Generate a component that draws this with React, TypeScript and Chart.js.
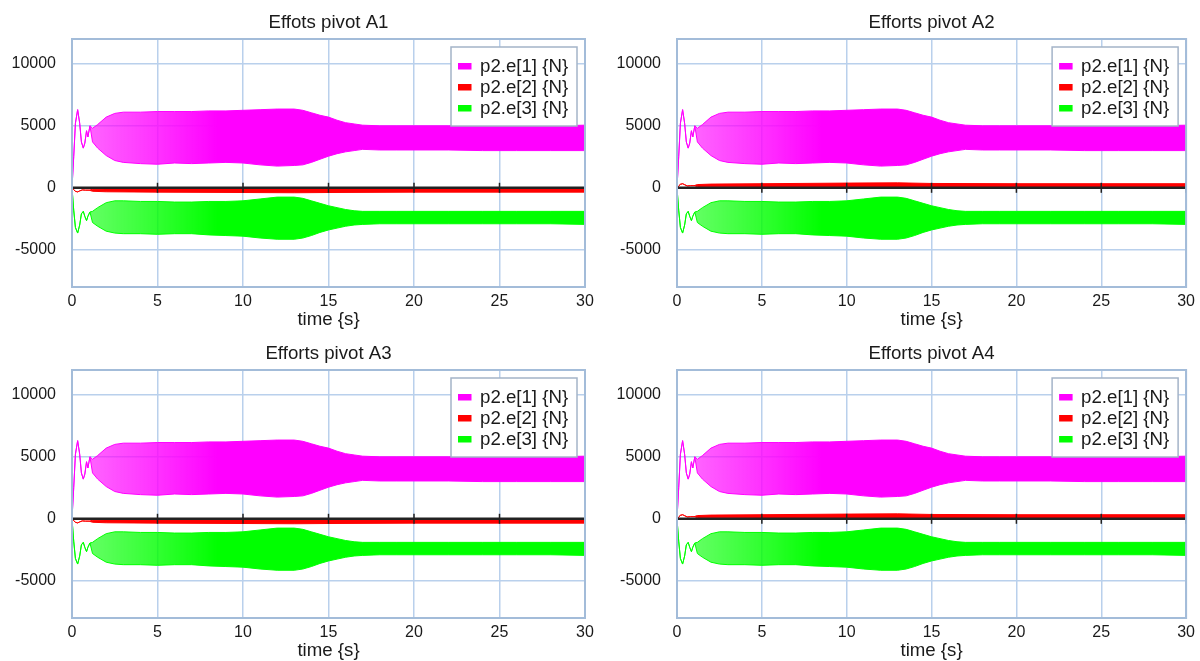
import React, { useEffect, useRef } from "react";
import { Chart, registerables } from "chart.js";
Chart.register(...registerables);

const X_TICKS = [0, 5, 10, 15, 20, 25, 30];
const Y_TICKS = [-5000, 0, 5000, 10000];
const TITLES = ["Effots pivot A1", "Efforts pivot A2", "Efforts pivot A3", "Efforts pivot A4"];
const SERIES_NAMES = ["p2.e[1] {N}", "p2.e[2] {N}", "p2.e[3] {N}"];
const SERIES_COLORS = ["#ff00ff", "#ff0000", "#00ff00"];
const SERIES_RGB = ["255,0,255", "255,0,0", "0,255,0"];

// time knots (s) for e[1] and e[3]: transient values, then oscillation envelope (max / min)
const T_MAIN = [0, 0.1, 0.2, 0.33, 0.45, 0.55, 0.66, 0.75, 0.85, 0.93, 1.05,
  1.2, 1.5, 2, 2.5, 3, 4, 5, 6, 7, 8, 9, 10, 11, 12, 13,
  13.5, 14, 14.5, 15, 15.5, 16, 16.5, 17, 18, 19, 20, 22, 24, 26, 28, 30];
const E1_UPPER = [0, 2500, 5200, 6300, 5200, 3700, 3200, 3600, 4600, 4100, 5000,
  4800, 5100, 5700, 6000, 6100, 6100, 6150, 6150, 6150, 6200, 6200, 6250, 6300, 6350, 6350,
  6250, 6050, 5850, 5700, 5450, 5250, 5150, 5050, 5000, 5000, 5000, 5000, 5000, 5000, 5000, 5050];
const E1_LOWER = [0, 2500, 5200, 6300, 5200, 3700, 3200, 3600, 4600, 4100, 5000,
  3700, 3200, 2600, 2200, 2050, 1950, 1900, 2000, 1950, 2000, 2050, 2000, 1850, 1750, 1800,
  1850, 2050, 2300, 2550, 2750, 2900, 3000, 3100, 3050, 3050, 3050, 3050, 3000, 3000, 3000, 3000];
const E3_UPPER = [0, -1800, -3200, -3650, -3000, -2100, -1900, -2300, -2650, -2300, -1950,
  -1900, -1600, -1200, -1050, -1050, -1100, -1100, -1150, -1150, -1100, -1100, -1050, -900, -750, -750,
  -850, -1050, -1250, -1450, -1600, -1750, -1850, -1900, -1900, -1900, -1900, -1900, -1900, -1900, -1900, -1900];
const E3_LOWER = [0, -1800, -3200, -3650, -3000, -2100, -1900, -2300, -2650, -2300, -1950,
  -2800, -3100, -3500, -3650, -3700, -3700, -3750, -3700, -3700, -3800, -3850, -3900, -4050, -4150, -4150,
  -4050, -3850, -3600, -3400, -3250, -3100, -3000, -2950, -2900, -2900, -2900, -2900, -2900, -2900, -2900, -2950];

// e[2]: A1 / A3 negative, A2 / A4 positive
const T_RED = [0, 0.1, 0.2, 0.33, 0.45, 0.6, 0.8, 1.0, 1.2, 2, 5, 10, 13, 15, 20, 30];
const E2_NEG_UPPER = [0, -150, -280, -330, -250, -170, -190, -190, -120, -100, -80, -60, -50, -60, -60, -60];
const E2_NEG_LOWER = [0, -150, -280, -330, -250, -170, -190, -190, -280, -320, -350, -380, -400, -380, -350, -350];
const E2_POS_UPPER = [0, 150, 280, 330, 250, 150, 170, 170, 260, 300, 330, 380, 400, 350, 330, 330];
const E2_POS_LOWER = [0, 150, 280, 330, 250, 150, 170, 170, 100, 80, 60, 50, 50, 60, 60, 60];

const FONT = "'Liberation Sans', Arial, sans-serif";
const TEXT = "#1a1a1a";

const pts = (t: number[], v: number[]) => t.map((x, i) => ({ x, y: v[i] }));

const bandFill = (rgb: string, textured: boolean) => (ctx: any) => {
  if (!textured) return `rgb(${rgb})`;
  const chart = ctx.chart;
  const xs = chart.scales && chart.scales.x;
  if (!chart.chartArea || !xs) return `rgba(${rgb},0.85)`;
  const x0 = xs.getPixelForValue(1.2);
  const x1 = xs.getPixelForValue(8.5);
  const g = chart.ctx.createLinearGradient(x0, 0, x1, 0);
  g.addColorStop(0, `rgba(${rgb},0.62)`);
  g.addColorStop(0.55, `rgba(${rgb},0.82)`);
  g.addColorStop(1, `rgba(${rgb},1)`);
  return g;
};

const decoPlugin = {
  id: "deco",
  afterDatasetsDraw(chart: any, _args: any, opts: any) {
    const { ctx, chartArea: a, scales } = chart;
    const y0 = scales.y.getPixelForValue(0);
    ctx.save();
    // zero axis
    ctx.strokeStyle = "#222";
    ctx.lineWidth = 2.5;
    ctx.beginPath();
    ctx.moveTo(a.left, y0);
    ctx.lineTo(a.right, y0);
    ctx.stroke();
    ctx.lineWidth = 1.5;
    for (const v of X_TICKS) {
      if (v === 0) continue;
      const x = scales.x.getPixelForValue(v);
      ctx.beginPath();
      ctx.moveTo(x, y0 - 5);
      ctx.lineTo(x, y0 + 5);
      ctx.stroke();
    }
    // frame
    ctx.strokeStyle = "#a3bcd9";
    ctx.lineWidth = 2;
    ctx.strokeRect(a.left, a.top, a.right - a.left, a.bottom - a.top);
    // legend
    const bw = 126, bh = 79;
    const bx = a.right - 8 - bw, by = a.top + 8;
    ctx.fillStyle = "#fff";
    ctx.fillRect(bx, by, bw, bh);
    ctx.strokeStyle = "#a4b4c8";
    ctx.lineWidth = 1.5;
    ctx.strokeRect(bx, by, bw, bh);
    ctx.font = `18.67px ${FONT}`;
    ctx.textBaseline = "middle";
    ctx.textAlign = "left";
    SERIES_NAMES.forEach((n, i) => {
      const cy = by + 19 + i * 21;
      ctx.fillStyle = SERIES_COLORS[i];
      ctx.fillRect(bx + 7, cy - 3, 13.5, 6.5);
      ctx.fillStyle = TEXT;
      ctx.fillText(n, bx + 29, cy + 1);
    });
    // title and x-axis title
    const cx = (a.left + a.right) / 2;
    ctx.textAlign = "center";
    ctx.textBaseline = "alphabetic";
    ctx.fillStyle = TEXT;
    ctx.fillText(opts.title, cx, 28);
    ctx.fillText("time {s}", cx, 325);
    ctx.restore();
  },
};

function Panel({ idx, left, top }: { idx: number; left: number; top: number }) {
  const ref = useRef<HTMLCanvasElement>(null);
  useEffect(() => {
    const positive = idx % 2 === 1;
    const yWidth = idx % 2 === 0 ? 72 : 77;
    const rightPad = idx % 2 === 0 ? 15 : 12;
    const redU = positive ? E2_POS_UPPER : E2_NEG_UPPER;
    const redL = positive ? E2_POS_LOWER : E2_NEG_LOWER;
    const series = [
      { t: T_MAIN, u: E1_UPPER, l: E1_LOWER, tex: true },
      { t: T_RED, u: redU, l: redL, tex: false },
      { t: T_MAIN, u: E3_UPPER, l: E3_LOWER, tex: true },
    ];
    const datasets: any[] = [];
    series.forEach((s, i) => {
      datasets.push({
        label: SERIES_NAMES[i],
        data: pts(s.t, s.u),
        borderColor: SERIES_COLORS[i],
        borderWidth: 1,
        pointRadius: 0,
        tension: 0,
        fill: false,
      });
      datasets.push({
        label: SERIES_NAMES[i] + " min",
        data: pts(s.t, s.l),
        borderColor: SERIES_COLORS[i],
        borderWidth: 1,
        pointRadius: 0,
        tension: 0,
        fill: "-1",
        backgroundColor: bandFill(SERIES_RGB[i], s.tex),
      });
    });
    const chart = new Chart(ref.current!, {
      type: "line",
      data: { datasets },
      plugins: [decoPlugin],
      options: {
        animation: false,
        responsive: false,
        devicePixelRatio: 1,
        layout: { padding: { top: 39, right: rightPad, left: 0, bottom: 0 } },
        plugins: {
          legend: { display: false },
          tooltip: { enabled: false },
          title: { display: false },
          deco: { title: TITLES[idx] },
        } as any,
        scales: {
          x: {
            type: "linear",
            min: 0,
            max: 30,
            afterBuildTicks: (s: any) => { s.ticks = X_TICKS.map((v) => ({ value: v })); },
            afterFit: (s: any) => { s.height = 43; },
            ticks: { font: { family: FONT, size: 16 }, color: TEXT, padding: 5, maxRotation: 0, callback: (v: any) => String(v) },
            grid: { color: "#b9d0ec", lineWidth: 1.5, drawTicks: false },
            border: { display: false },
          },
          y: {
            type: "linear",
            min: -8000,
            max: 12000,
            afterBuildTicks: (s: any) => { s.ticks = Y_TICKS.map((v) => ({ value: v })); },
            afterFit: (s: any) => { s.width = yWidth; },
            ticks: { font: { family: FONT, size: 16 }, color: TEXT, padding: 16, callback: (v: any) => String(v) },
            grid: { color: "#b9d0ec", lineWidth: 1.5, drawTicks: false },
            border: { display: false },
          },
        },
      },
    } as any);
    return () => chart.destroy();
  }, [idx]);
  return (
    <canvas
      ref={ref}
      width={600}
      height={330}
      style={{ position: "absolute", left, top, width: 600, height: 330 }}
    />
  );
}

export default function App() {
  return (
    <div style={{ position: "absolute", left: 0, top: 0, width: 1200, height: 661, background: "#fff" }}>
      <Panel idx={0} left={0} top={0} />
      <Panel idx={1} left={600} top={0} />
      <Panel idx={2} left={0} top={331} />
      <Panel idx={3} left={600} top={331} />
    </div>
  );
}
